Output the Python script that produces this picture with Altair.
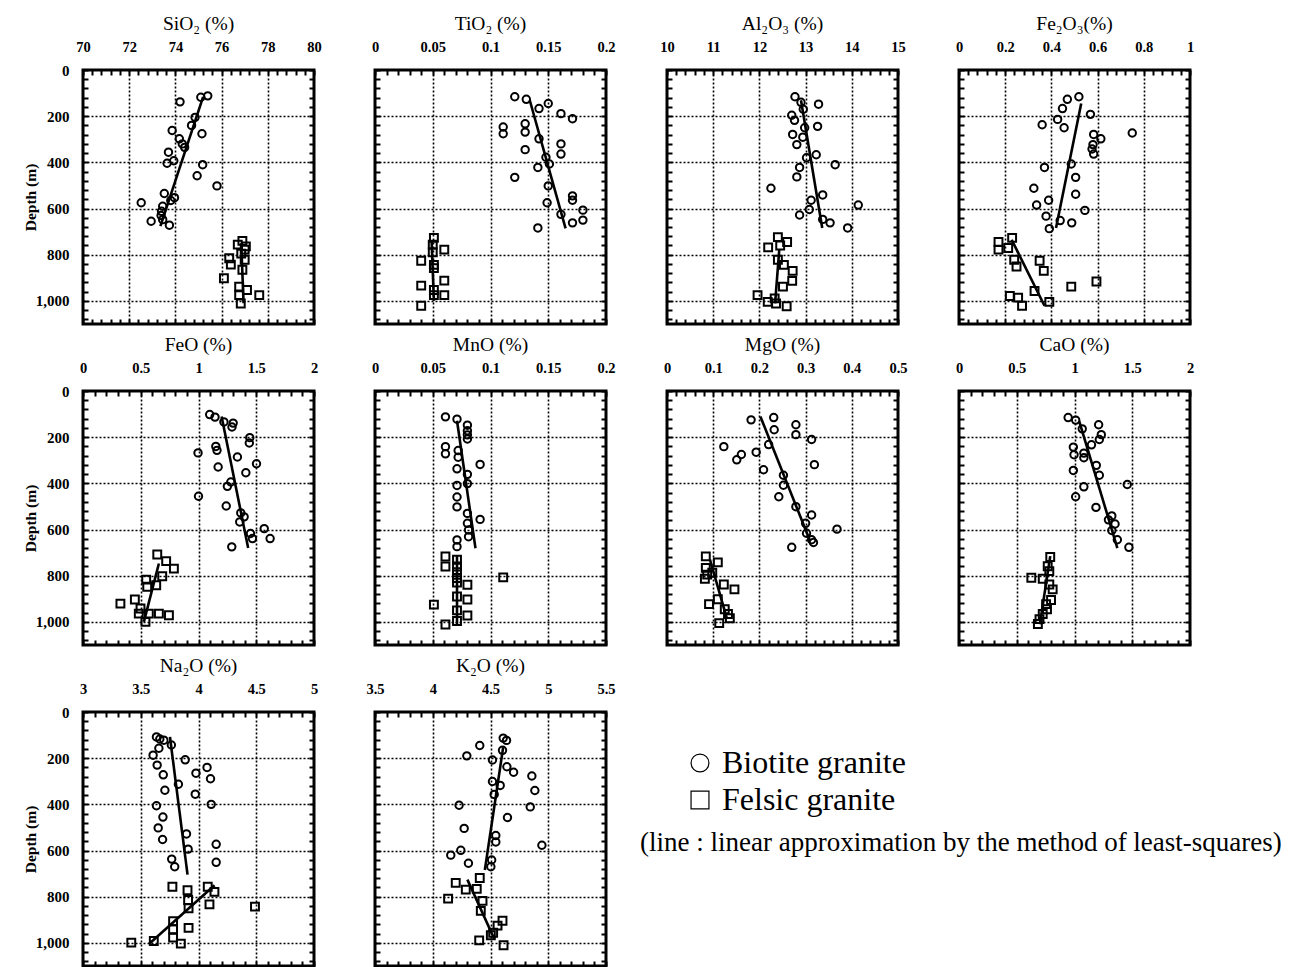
import altair as alt
import pandas as pd

FONT = "Liberation Serif"

# ---------------- data: (value %, depth m) ----------------
SIO2_BIOTITE = [(75.4, 112), (74.2, 138), (75.1, 118), (74.85, 205), (74.7, 240), (74.17, 298), (74.3, 320),
                (74.4, 335), (73.86, 262), (75.15, 276), (73.7, 356), (73.64, 404), (73.93, 393), (75.18, 410),
                (74.94, 458), (75.8, 502), (73.52, 535), (73.96, 553), (73.8, 565), (72.52, 575), (72.95, 655),
                (73.45, 590), (73.4, 612), (73.38, 630), (73.45, 648), (73.74, 672)]
SIO2_FELSIC = [(76.7, 756), (77.05, 764), (77.0, 778), (76.33, 815), (76.4, 843), (77.0, 822), (76.9, 865),
               (76.1, 902), (76.76, 938), (77.1, 953), (76.76, 975), (76.83, 1011), (77.63, 975), (76.85, 795),
               (76.9, 740)]
SIO2_BIO_FIT = [(75.2, 116), (73.35, 676)]
SIO2_FEL_FIT = [(76.85, 750), (76.95, 1010)]

TIO2_BIOTITE = [(0.121, 116), (0.131, 127), (0.142, 167), (0.150, 145), (0.161, 189), (0.171, 211), (0.111, 247),
                (0.111, 276), (0.130, 233), (0.130, 269), (0.142, 298), (0.161, 320), (0.161, 364), (0.130, 345),
                (0.148, 378), (0.141, 422), (0.151, 407), (0.121, 465), (0.150, 502), (0.149, 575), (0.171, 545),
                (0.171, 564), (0.161, 625), (0.171, 662), (0.180, 607), (0.180, 650), (0.141, 684)]
TIO2_FELSIC = [(0.051, 727), (0.050, 756), (0.060, 778), (0.040, 826), (0.051, 844), (0.051, 858), (0.060, 912),
               (0.040, 934), (0.051, 953), (0.051, 975), (0.060, 975), (0.040, 1021), (0.050, 790)]
TIO2_BIO_FIT = [(0.134, 131), (0.165, 686)]
TIO2_FEL_FIT = [(0.049, 740), (0.051, 1000)]

AL2O3_BIOTITE = [(12.77, 116), (13.28, 148), (12.70, 196), (12.76, 218), (13.26, 244), (12.72, 279), (12.81, 323),
                 (12.94, 291), (13.23, 367), (13.64, 410), (12.87, 422), (12.81, 463), (12.25, 512), (13.37, 541),
                 (13.12, 564), (13.08, 604), (12.87, 628), (13.37, 647), (13.53, 662), (14.14, 585), (13.91, 684),
                 (12.9, 140), (12.95, 170), (12.98, 250), (13.02, 380)]
AL2O3_FELSIC = [(12.40, 724), (12.60, 745), (12.19, 768), (12.40, 822), (12.53, 844), (12.72, 870), (12.71, 913),
                (12.51, 938), (11.96, 975), (12.18, 1004), (12.36, 1011), (12.59, 1023), (12.33, 989), (12.45, 760)]
AL2O3_BIO_FIT = [(12.9, 131), (13.36, 684)]
AL2O3_FEL_FIT = [(12.43, 778), (12.34, 1011)]

FE2O3_BIOTITE = [(0.519, 116), (0.469, 127), (0.448, 167), (0.569, 192), (0.427, 214), (0.360, 237), (0.455, 250),
                 (0.750, 273), (0.583, 279), (0.614, 298), (0.580, 323), (0.576, 342), (0.583, 364), (0.486, 407),
                 (0.370, 422), (0.505, 465), (0.324, 512), (0.505, 538), (0.388, 564), (0.336, 585), (0.545, 608),
                 (0.377, 633), (0.438, 652), (0.488, 662), (0.391, 687)]
FE2O3_FELSIC = [(0.230, 727), (0.171, 745), (0.213, 771), (0.171, 778), (0.239, 822), (0.249, 851), (0.349, 826),
                (0.367, 870), (0.327, 957), (0.220, 979), (0.256, 986), (0.273, 1021), (0.391, 1004), (0.486, 938),
                (0.595, 916)]
FE2O3_BIO_FIT = [(0.529, 145), (0.420, 684)]
FE2O3_FEL_FIT = [(0.228, 735), (0.370, 1021)]

FEO_BIOTITE = [(1.097, 102), (1.143, 113), (1.22, 134), (1.30, 139), (1.29, 156), (1.444, 202), (1.44, 225),
               (1.15, 240), (1.16, 257), (0.996, 268), (1.337, 286), (1.17, 329), (1.502, 315), (1.41, 354),
               (1.28, 394), (1.25, 413), (1.0, 456), (1.24, 498), (1.366, 528), (1.395, 545), (1.357, 567),
               (1.569, 596), (1.62, 639), (1.45, 617), (1.467, 639), (1.288, 675)]
FEO_FELSIC = [(0.643, 708), (0.72, 737), (0.787, 769), (0.686, 802), (0.547, 817), (0.556, 848), (0.634, 841),
              (0.449, 903), (0.324, 921), (0.498, 942), (0.483, 964), (0.57, 964), (0.657, 964), (0.744, 971),
              (0.541, 1000)]
FEO_BIO_FIT = [(1.20, 110), (1.43, 680)]
FEO_FEL_FIT = [(0.657, 747), (0.527, 1000)]

MNO_BIOTITE = [(0.061, 112), (0.071, 122), (0.080, 148), (0.080, 172), (0.080, 190), (0.080, 208), (0.061, 241),
               (0.061, 272), (0.072, 258), (0.072, 287), (0.091, 318), (0.071, 337), (0.080, 361), (0.080, 401),
               (0.071, 409), (0.071, 459), (0.071, 502), (0.080, 530), (0.091, 556), (0.080, 573), (0.081, 602),
               (0.081, 631), (0.071, 645), (0.071, 674)]
MNO_FELSIC = [(0.061, 717), (0.061, 760), (0.071, 731), (0.071, 760), (0.071, 785), (0.071, 810), (0.071, 830),
              (0.071, 890), (0.080, 839), (0.111, 807), (0.080, 903), (0.051, 925), (0.080, 972), (0.061, 1011),
              (0.071, 996), (0.071, 950)]
MNO_BIO_FIT = [(0.071, 129), (0.087, 681)]
MNO_FEL_FIT = [(0.071, 715), (0.071, 1010)]

MGO_BIOTITE = [(0.182, 125), (0.231, 115), (0.232, 168), (0.279, 146), (0.279, 189), (0.313, 210), (0.22, 232),
               (0.123, 241), (0.161, 275), (0.151, 298), (0.193, 265), (0.209, 341), (0.319, 319), (0.252, 365),
               (0.252, 408), (0.242, 458), (0.279, 501), (0.313, 537), (0.30, 573), (0.302, 616), (0.313, 644),
               (0.317, 656), (0.368, 598), (0.27, 677)]
MGO_FELSIC = [(0.084, 716), (0.11, 742), (0.084, 766), (0.087, 795), (0.082, 813), (0.098, 787), (0.123, 838),
              (0.146, 859), (0.091, 923), (0.11, 902), (0.125, 945), (0.132, 966), (0.136, 984), (0.113, 1005)]
MGO_BIO_FIT = [(0.202, 110), (0.31, 651)]
MGO_FEL_FIT = [(0.093, 730), (0.13, 988)]

CAO_BIOTITE = [(0.945, 115), (1.01, 126), (1.067, 164), (1.209, 146), (1.232, 189), (1.215, 210), (1.147, 233),
               (0.99, 243), (0.996, 276), (1.081, 269), (1.081, 289), (1.189, 322), (0.99, 344), (1.215, 365),
               (1.081, 415), (1.457, 405), (1.01, 458), (1.186, 504), (1.323, 541), (1.351, 576), (1.294, 558),
               (1.323, 604), (1.371, 644), (1.471, 677)]
CAO_FELSIC = [(0.79, 719), (0.768, 759), (0.782, 780), (0.626, 809), (0.725, 813), (0.782, 838), (0.811, 859),
              (0.797, 905), (0.754, 923), (0.762, 945), (0.725, 966), (0.697, 988), (0.683, 1009)]
CAO_BIO_FIT = [(1.04, 129), (1.371, 680)]
CAO_FEL_FIT = [(0.79, 715), (0.70, 1010)]

NA2O_BIOTITE = [(3.636, 108), (3.665, 117), (3.70, 122), (3.765, 143), (3.657, 157), (3.607, 187), (3.885, 207),
                (3.642, 230), (3.695, 272), (4.074, 240), (3.978, 265), (4.104, 289), (3.826, 313), (3.709, 339),
                (3.972, 356), (4.11, 400), (3.636, 406), (3.692, 455), (3.651, 502), (3.689, 552), (3.896, 528),
                (3.91, 594), (4.153, 573), (3.768, 637), (3.794, 670), (4.153, 651)]
NA2O_FELSIC = [(3.774, 757), (4.08, 757), (4.138, 779), (3.905, 772), (3.91, 814), (3.914, 850), (4.095, 833),
               (4.489, 843), (3.914, 935), (3.78, 906), (3.78, 941), (3.78, 977), (3.418, 999), (3.613, 992),
               (3.847, 1003)]
NA2O_BIO_FIT = [(3.753, 108), (3.905, 704)]
NA2O_FEL_FIT = [(4.139, 750), (3.569, 1006)]

K2O_BIOTITE = [(4.61, 113), (4.639, 123), (4.407, 145), (4.604, 166), (4.295, 190), (4.517, 208), (4.642, 237),
               (4.70, 261), (4.858, 277), (4.517, 301), (4.584, 318), (4.884, 340), (4.532, 357), (4.228, 404),
               (4.844, 411), (4.647, 457), (4.272, 504), (4.546, 535), (4.546, 563), (4.945, 577), (4.243, 599),
               (4.156, 620), (4.309, 655), (4.51, 641), (4.503, 670)]
K2O_FELSIC = [(4.407, 719), (4.199, 740), (4.286, 769), (4.381, 766), (4.133, 808), (4.431, 818), (4.416, 861),
              (4.604, 904), (4.561, 925), (4.523, 956), (4.402, 989), (4.613, 1010), (4.503, 967)]
K2O_BIO_FIT = [(4.61, 152), (4.451, 684)]
K2O_FEL_FIT = [(4.30, 726), (4.532, 982)]

# panel titles and x-axis ranges (min, max, labelled step)
TITLES = ["SiO₂ (%)", "TiO₂ (%)", "Al₂O₃ (%)", "Fe₂O₃(%)", "FeO (%)", "MnO (%)", "MgO (%)", "CaO (%)",
          "Na₂O (%)", "K₂O (%)"]
X_RANGES = [(70, 80, 2), (0, 0.2, 0.05), (10, 15, 1), (0, 1, 0.2), (0, 2, 0.5), (0, 0.2, 0.05), (0, 0.5, 0.1),
            (0, 2, 0.5), (3, 5, 0.5), (3.5, 5.5, 0.5)]
SERIES = [
    (SIO2_BIOTITE, SIO2_FELSIC, SIO2_BIO_FIT, SIO2_FEL_FIT),
    (TIO2_BIOTITE, TIO2_FELSIC, TIO2_BIO_FIT, TIO2_FEL_FIT),
    (AL2O3_BIOTITE, AL2O3_FELSIC, AL2O3_BIO_FIT, AL2O3_FEL_FIT),
    (FE2O3_BIOTITE, FE2O3_FELSIC, FE2O3_BIO_FIT, FE2O3_FEL_FIT),
    (FEO_BIOTITE, FEO_FELSIC, FEO_BIO_FIT, FEO_FEL_FIT),
    (MNO_BIOTITE, MNO_FELSIC, MNO_BIO_FIT, MNO_FEL_FIT),
    (MGO_BIOTITE, MGO_FELSIC, MGO_BIO_FIT, MGO_FEL_FIT),
    (CAO_BIOTITE, CAO_FELSIC, CAO_BIO_FIT, CAO_FEL_FIT),
    (NA2O_BIOTITE, NA2O_FELSIC, NA2O_BIO_FIT, NA2O_FEL_FIT),
    (K2O_BIOTITE, K2O_FELSIC, K2O_BIO_FIT, K2O_FEL_FIT),
]
DEPTH_DOMAIN = [0, 1100]
DEPTH_TICKS = list(range(0, 1100, 40))

LEGEND_LABELS = ["Biotite granite", "Felsic granite"]
LEGEND_SHAPES = ["circle", "square"]
NOTE = "(line : linear approximation by the method of least-squares)"

W, H = 231, 254


def to_df(pairs):
    return pd.DataFrame(pairs, columns=["v", "depth"])


def make_panel(i, first_col):
    title = TITLES[i]
    lo, hi, step = X_RANGES[i]
    bio, fel, bio_fit, fel_fit = SERIES[i]
    n = int(round((hi - lo) / step * 5))
    minor = [round(lo + k * step / 5, 6) for k in range(n + 1)]
    major = f"abs(datum.value / {step} - round(datum.value / {step})) < 0.001"
    xs = alt.Scale(domain=[lo, hi], nice=False, zero=False)
    ys = alt.Scale(domain=DEPTH_DOMAIN, reverse=True, nice=False, zero=False)
    common = dict(tickColor="black", tickWidth=2, tickSize=5, offset=-5, domain=False)
    x_main = alt.Axis(
        orient="top", values=minor, labelExpr=f"{major} ? format(datum.value, '~g') : ''",
        labelFont=FONT, labelFontSize=14.5, labelFontWeight="bold", labelColor="black",
        labelPadding=16, labelOverlap=False, labelFlush=False,
        grid=True, gridColor="black", gridDash=[2, 2], gridWidth=1.6,
        gridOpacity={"condition": {"test": f"{major} && datum.value > {lo} + 1e-9 && datum.value < {hi} - 1e-9",
                                   "value": 1}, "value": 0},
        title=None, **common)
    y_kwargs = dict(
        orient="left", values=DEPTH_TICKS,
        grid=True, gridColor="black", gridDash=[2, 2], gridWidth=1.6,
        gridOpacity={"condition": {"test": "datum.value % 200 == 0 && datum.value > 0 && datum.value <= 1000",
                                   "value": 1}, "value": 0}, **common)
    if first_col:
        y_main = alt.Axis(
            labelExpr="(datum.value % 200 == 0 && datum.value <= 1000) ? format(datum.value, ',') : ''",
            labelFont=FONT, labelFontSize=15, labelFontWeight="bold", labelColor="black",
            labelPadding=14, labelOverlap=False, labelFlush=False,
            title="Depth (m)", titleFont=FONT, titleFontSize=15.5, titleFontWeight="bold", titleColor="black",
            titleX=-58, titleY=127, titleAngle=-90, titleAlign="center", titleBaseline="middle",
            **y_kwargs)
    else:
        y_main = alt.Axis(labels=False, title=None, **y_kwargs)
    x_minor = alt.Axis(orient="bottom", values=minor, labels=False, grid=False, title=None, **common)
    y_minor = alt.Axis(orient="right", values=DEPTH_TICKS, labels=False, grid=False, title=None, **common)

    circles = alt.Chart(to_df(bio)).mark_point(
        shape="circle", filled=False, size=55, strokeWidth=2, color="black", opacity=1
    ).encode(x=alt.X("v:Q", scale=xs, axis=x_main), y=alt.Y("depth:Q", scale=ys, axis=y_main))
    squares = alt.Chart(to_df(fel)).mark_point(
        shape="square", filled=False, size=62, strokeWidth=2, color="black", opacity=1
    ).encode(x=alt.X("v:Q", scale=xs, axis=x_minor), y=alt.Y("depth:Q", scale=ys, axis=y_minor))
    fits = pd.concat([to_df(bio_fit).assign(g="bio"), to_df(fel_fit).assign(g="fel")])
    lines = alt.Chart(fits).mark_line(color="black", strokeWidth=2.6).encode(
        x=alt.X("v:Q", scale=xs, axis=None), y=alt.Y("depth:Q", scale=ys, axis=None), detail="g:N")
    return alt.layer(lines, circles, squares).resolve_axis(x="independent", y="independent").properties(
        width=W, height=H,
        title=alt.TitleParams(title, font=FONT, fontSize=19.5, fontWeight="normal", color="black", offset=5),
        view=alt.ViewBackground(stroke="black", strokeWidth=3, strokeOpacity=1),
    )


# legend block
leg_df = pd.DataFrame({"label": LEGEND_LABELS, "shape": LEGEND_SHAPES, "k": [0, 1]})
leg_y = alt.Y("k:O", axis=None, scale=alt.Scale(type="point", domain=[0, 1], range=[51, 88], padding=0))
leg_sym = alt.Chart(leg_df).mark_point(filled=False, size=320, strokeWidth=1.2, color="black", opacity=1).encode(
    x=alt.value(33), y=leg_y, shape=alt.Shape("shape:N", scale=None, legend=None))
leg_txt = alt.Chart(leg_df).mark_text(align="left", baseline="middle", font=FONT, fontSize=32, color="black").encode(
    x=alt.value(55), y=leg_y, text="label:N")
note = alt.Chart(pd.DataFrame({"t": [NOTE]})).mark_text(
    align="left", baseline="middle", font=FONT, fontSize=27, color="black"
).encode(x=alt.value(-27), y=alt.value(131), text="t:N")
legend = alt.layer(leg_sym, leg_txt, note).properties(
    width=W, height=H, view=alt.ViewBackground(strokeOpacity=0))

panels = [make_panel(i, i in (0, 4, 8)) for i in range(10)] + [legend]

chart = alt.concat(*panels, columns=4, spacing={"row": 67, "column": 61}, bounds="flush").properties(
    padding={"left": 21, "top": 12, "right": 5, "bottom": 0}
).configure_view(strokeOpacity=0).configure(background="white")

chart.save("out.html", embed_options={"renderer": "svg", "actions": False})
